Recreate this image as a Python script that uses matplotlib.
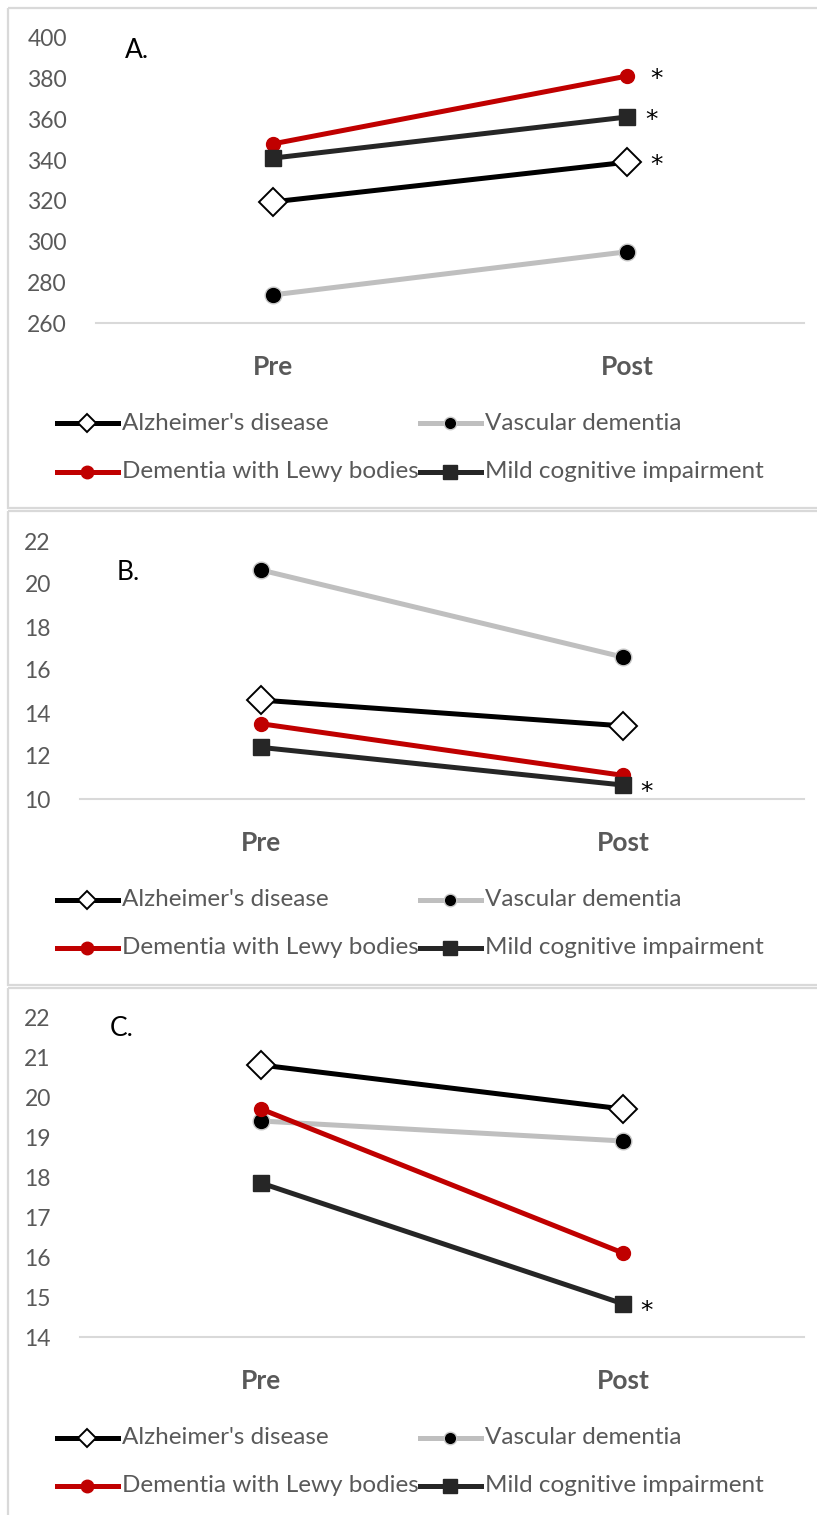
import matplotlib
matplotlib.use('Agg')
import matplotlib.pyplot as plt
from matplotlib.lines import Line2D
from matplotlib.patches import Rectangle

W, H = 817, 1515
FONT = 'Lato'
plt.rcParams['font.family'] = [FONT, 'DejaVu Sans']

categories = ['Pre', 'Post']
series_names = ["Alzheimer's disease", "Vascular dementia",
                "Dementia with Lewy bodies", "Mild cognitive impairment"]

# Panel A
a_ad = [319.5, 339.0]
a_vad = [273.8, 295.0]
a_dlb = [348.0, 381.3]
a_mci = [341.0, 361.2]
a_sig = [True, False, True, True]
a_ticks = [260, 280, 300, 320, 340, 360, 380, 400]

# Panel B
b_ad = [14.6, 13.4]
b_vad = [20.65, 16.6]
b_dlb = [13.5, 11.1]
b_mci = [12.4, 10.65]
b_sig = [False, False, False, True]
b_ticks = [10, 12, 14, 16, 18, 20, 22]

# Panel C
c_ad = [20.8, 19.7]
c_vad = [19.4, 18.9]
c_dlb = [19.7, 16.1]
c_mci = [17.85, 14.83]
c_sig = [False, False, False, True]
c_ticks = [14, 15, 16, 17, 18, 19, 20, 21, 22]

panel_labels = ['A.', 'B.', 'C.']

styles = [
    dict(color='#000000', marker='D', markersize=14, markerfacecolor='white',
         markeredgecolor='black', markeredgewidth=1.4),
    dict(color='#bfbfbf', marker='o', markersize=12, markerfacecolor='black',
         markeredgecolor='#c8c8c8', markeredgewidth=1.0),
    dict(color='#c00000', marker='o', markersize=10, markerfacecolor='#c00000',
         markeredgecolor='#c00000', markeredgewidth=1.0),
    dict(color='#262626', marker='s', markersize=12, markerfacecolor='#262626',
         markeredgecolor='#262626', markeredgewidth=1.0),
]
legend_msize = [9, 9, 9, 10]
LW = 3.6
GREY = '#595959'

fig = plt.figure(figsize=(W / 100, H / 100), dpi=100)
lax = fig.add_axes([0, 0, 1, 1])
lax.set_xlim(0, W)
lax.set_ylim(H, 0)
lax.axis('off')

panels = [
    dict(data=[a_ad, a_vad, a_dlb, a_mci], sig=a_sig, ticks=a_ticks,
         left=96, right=804, top=38, bottom=323, box=(8, 8, 508),
         lab=(125, 50), leg=(423, 472)),
    dict(data=[b_ad, b_vad, b_dlb, b_mci], sig=b_sig, ticks=b_ticks,
         left=80, right=804, top=541, bottom=799, box=(8, 511, 985),
         lab=(117, 573), leg=(900, 948)),
    dict(data=[c_ad, c_vad, c_dlb, c_mci], sig=c_sig, ticks=c_ticks,
         left=80, right=804, top=1017, bottom=1337, box=(8, 988, 1530),
         lab=(110, 1028), leg=(1438, 1486)),
]

star_offsets = {0: (21, -2), 1: (20, 0), 2: (21, -2), 3: (18, -2)}

for i, p in enumerate(panels):
    bx, by0, by1 = p['box']
    lax.add_patch(Rectangle((bx, by0), W + 10 - bx, by1 - by0, fill=False,
                            edgecolor='#d9d9d9', linewidth=1.6))
    ax = fig.add_axes([p['left'] / W, 1 - p['bottom'] / H,
                       (p['right'] - p['left']) / W, (p['bottom'] - p['top']) / H])
    ax.patch.set_alpha(0)
    x = list(range(len(categories)))
    for j, vals in enumerate(p['data']):
        ax.plot(x, vals, linewidth=LW, clip_on=False, zorder=3 + j, **styles[j])
        if p['sig'][j]:
            dx, dy = star_offsets[j]
            if i > 0:
                dx, dy = 17, -5
            ax.annotate('*', xy=(1, vals[1]), xytext=(dx, dy),
                        textcoords='offset points', ha='center', va='center',
                        fontsize=18, color='black', fontfamily='DejaVu Sans')
    ax.set_xlim(-0.5, 1.5)
    ax.set_ylim(p['ticks'][0], p['ticks'][-1])
    ax.set_yticks(p['ticks'])
    ax.set_yticklabels([str(t) for t in p['ticks']])
    ax.set_xticks(x)
    ax.set_xticklabels(categories, fontweight='bold', fontsize=19, color=GREY)
    ax.tick_params(axis='y', length=0, pad=21, labelsize=16.5, labelcolor=GREY)
    ax.tick_params(axis='x', length=0, pad=23)
    for s in ['top', 'right', 'left']:
        ax.spines[s].set_visible(False)
    ax.spines['bottom'].set_color('#d9d9d9')
    ax.spines['bottom'].set_linewidth(1.5)
    lx, ly = p['lab']
    lax.text(lx, ly, panel_labels[i], fontsize=19, color='black',
             ha='left', va='center')
    # legend
    r1, r2 = p['leg']
    pos = [(57, r1), (420, r1), (57, r2), (420, r2)]
    for j, (hx, hy) in enumerate(pos):
        st = dict(styles[j])
        lax.add_line(Line2D([hx, hx + 61], [hy, hy], linewidth=LW,
                            color=st['color']))
        st2 = {k: v for k, v in st.items() if k != 'color'}
        st2['markersize'] = legend_msize[j]
        lax.add_line(Line2D([hx + 30.5], [hy], linestyle='none', **st2))
        lax.text(hx + 65, hy, series_names[j], fontsize=17.5, color=GREY,
                 ha='left', va='center')

fig.savefig('out.png', dpi=100)
